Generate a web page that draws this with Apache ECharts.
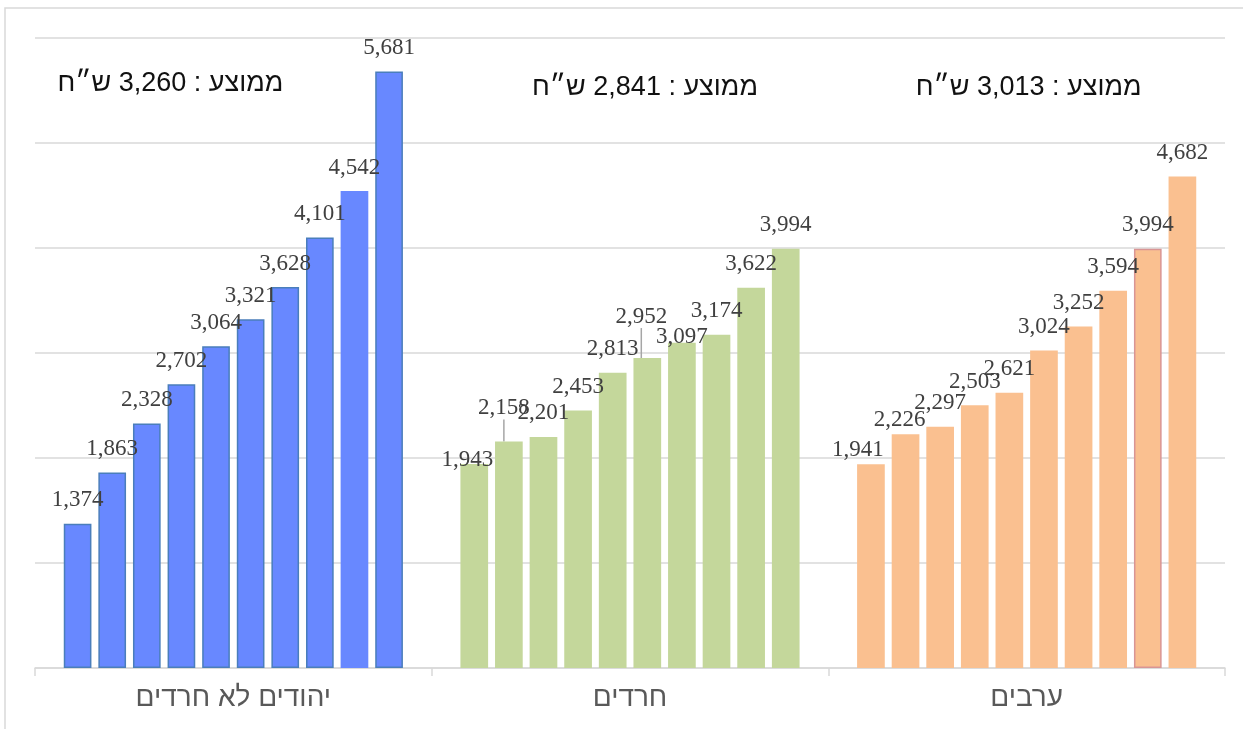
<!DOCTYPE html>
<html>
<head>
<meta charset="utf-8">
<script src="https://cdn.jsdelivr.net/npm/echarts@6/dist/echarts.min.js"></script>
<style>
html,body{margin:0;padding:0;background:#fff;}
#chart{width:1243px;height:729px;}
</style>
</head>
<body>
<div id="chart"></div>
<script>
// ---- data ----
const categories = ['יהודים לא חרדים', 'חרדים', 'ערבים'];
const jewishNonHaredi = [1374, 1863, 2328, 2702, 3064, 3321, 3628, 4101, 4542, 5681];
const haredi = [1943, 2158, 2201, 2453, 2813, 2952, 3097, 3174, 3622, 3994];
const arab = [1941, 2226, 2297, 2503, 2621, 3024, 3252, 3594, 3994, 4682];
const averages = [3260, 2841, 3013];
const yMin = 0, yMax = 6000, yStep = 1000;

// ---- style ----
const groups = [jewishNonHaredi, haredi, arab];
const fills = ['#6888FF', '#C4D79B', '#FAC090'];
// label nudges (dx, dy, leader line) keyed "category-bar"
const labelNudges = {
  '1-0': [-7, 19, false],
  '1-1': [-5, -10, true],
  '1-5': [-6, -18, true],
  '1-6': [0, 18, false],
  '2-0': [-13, 9, false],
  '2-1': [-6, 9, false]
};
function itemStyleFor(c, i) {
  const s = { color: fills[c] };
  if (c === 0 && i !== 8) { s.borderColor = '#4A7EBB'; s.borderWidth = 1.5; }
  if (c === 2 && i === 8) { s.borderColor = '#D99594'; s.borderWidth = 1.5; }
  return s;
}
const nBars = jewishNonHaredi.length;
const series = [];
for (let i = 0; i < nBars; i++) {
  series.push({
    type: 'bar',
    barGap: '25%',
    barCategoryGap: '14.5%',
    data: groups.map((g, c) => {
      const item = { value: g[i], itemStyle: itemStyleFor(c, i) };
      const n = labelNudges[c + '-' + i];
      if (n && n[2]) item.labelLine = { show: true, lineStyle: { color: '#A6A6A6', width: 1.5 } };
      return item;
    }),
    label: {
      show: true,
      position: 'top',
      distance: 12,
      fontFamily: 'Liberation Serif, DejaVu Serif, serif',
      fontSize: 23,
      color: '#404040',
      formatter: p => p.value.toLocaleString('en-US')
    },
    labelLayout: function (p) {
      const n = labelNudges[p.dataIndex + '-' + p.seriesIndex];
      return n ? { dx: n[0], dy: n[1] } : {};
    },
    emphasis: { disabled: true }
  });
}

const chart = echarts.init(document.getElementById('chart'));
chart.setOption({
  animation: false,
  grid: { left: 35, right: 18, top: 38, bottom: 61 },
  xAxis: {
    type: 'category',
    data: categories,
    axisLine: { lineStyle: { color: '#D9D9D9', width: 1.5 } },
    axisTick: { show: true, length: 8, lineStyle: { color: '#D9D9D9', width: 1.5 } },
    axisLabel: { fontFamily: 'Liberation Sans, DejaVu Sans, sans-serif', fontSize: 28, color: '#595959', margin: 16 }
  },
  yAxis: {
    type: 'value',
    min: yMin, max: yMax, interval: yStep,
    axisLabel: { show: false },
    axisLine: { show: false },
    axisTick: { show: false },
    splitLine: { lineStyle: { color: '#D9D9D9', width: 1.5 } }
  },
  series: series
});

// average annotations + outer frame
const titleOffsets = [[-63, 84], [15, 88], [2, 88]];
const graphics = [{
  type: 'rect', silent: true,
  shape: { x: 5, y: 8, width: 1300, height: 800 },
  style: { fill: 'none', stroke: '#D9D9D9', lineWidth: 1.5 }
}];
categories.forEach((cat, c) => {
  const cx = chart.convertToPixel({ xAxisIndex: 0 }, cat);
  graphics.push({
    type: 'text', silent: true,
    x: cx + titleOffsets[c][0], y: titleOffsets[c][1],
    style: {
      text: 'ממוצע : ' + averages[c].toLocaleString('en-US') + ' ש״ח',
      font: '27px "Liberation Sans", "DejaVu Sans", sans-serif',
      fill: '#111111', align: 'center', verticalAlign: 'middle'
    }
  });
});
chart.setOption({ graphic: graphics });
</script>
</body>
</html>
